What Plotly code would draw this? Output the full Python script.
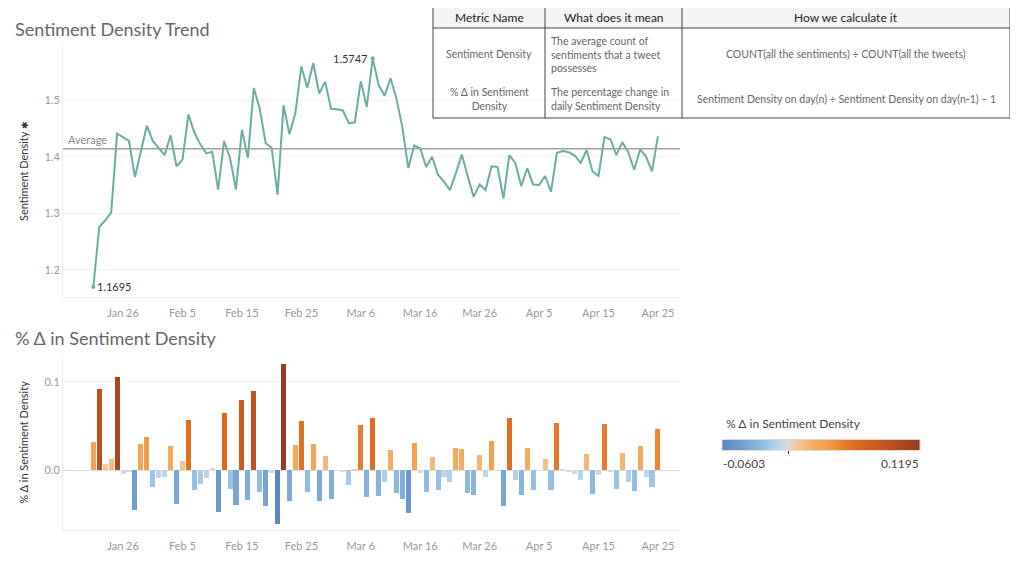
import pandas as pd
import plotly.graph_objs as go
from plotly.subplots import make_subplots

# Daily sentiment density
start_date = "2020-01-21"
sentiment_density = [
	1.1695, 1.276, 1.287, 1.301, 1.441, 1.434, 1.428, 1.364, 1.407, 1.455,
	1.428, 1.416, 1.403, 1.438, 1.383, 1.395, 1.475, 1.443, 1.422, 1.406,
	1.409, 1.342, 1.428, 1.398, 1.342, 1.448, 1.398, 1.522, 1.485, 1.424,
	1.416, 1.333, 1.491, 1.440, 1.478, 1.560, 1.522, 1.566, 1.512, 1.533,
	1.485, 1.484, 1.482, 1.459, 1.461, 1.534, 1.488, 1.5747, 1.527, 1.508,
	1.539, 1.503, 1.452, 1.380, 1.420, 1.415, 1.382, 1.400, 1.368, 1.356,
	1.341, 1.371, 1.404, 1.365, 1.329, 1.351, 1.341, 1.383, 1.382, 1.326,
	1.403, 1.389, 1.348, 1.380, 1.351, 1.350, 1.366, 1.338, 1.407, 1.410,
	1.408, 1.402, 1.389, 1.412, 1.374, 1.366, 1.435, 1.431, 1.403, 1.426,
	1.408, 1.377, 1.413, 1.400, 1.374, 1.436,
]

# Daily % change
pct_change = [
	0.0316, 0.0914, 0.0071, 0.0132, 0.1056, -0.004, -0.0015, -0.045, 0.030, 0.037,
	-0.019, -0.009, -0.008, 0.027, -0.038, 0.010, 0.057, -0.022, -0.015, -0.009,
	0.003, -0.047, 0.065, -0.021, -0.039, 0.079, -0.034, 0.089, -0.024, -0.040,
	-0.003, -0.0603, 0.1195, -0.035, 0.028, 0.056, -0.025, 0.030, -0.035, 0.0165,
	-0.032, -0.0005, -0.001, -0.0165, 0.002, 0.051, -0.030, 0.0586, -0.029, -0.0135,
	0.0226, -0.026, -0.032, -0.048, 0.031, -0.003, -0.024, 0.015, -0.022, -0.008,
	-0.013, 0.0256, 0.0237, -0.026, -0.028, 0.017, -0.008, 0.033, -0.0007, -0.040,
	0.0586, -0.0105, -0.028, 0.0248, -0.022, -0.0007, 0.0124, -0.022, 0.053, 0.002,
	-0.002, -0.004, -0.0105, 0.018, -0.027, -0.0053, 0.052, -0.0025, -0.021, 0.019,
	-0.0128, -0.023, 0.0274, -0.0075, -0.019, 0.047,
]

# x tick labels (every 10 days)
tick_dates = ["2020-01-26", "2020-02-05", "2020-02-15", "2020-02-25", "2020-03-06",
	"2020-03-16", "2020-03-26", "2020-04-05", "2020-04-15", "2020-04-25"]
tick_labels = ["Jan 26", "Feb 5", "Feb 15", "Feb 25", "Mar 6",
	"Mar 16", "Mar 26", "Apr 5", "Apr 15", "Apr 25"]

average_value = 1.414
min_idx, max_idx = 0, 47
pct_min, pct_max = -0.0603, 0.1195

table_header = ["Metric Name", "What does it mean", "How we calculate it"]
table_rows = [
	["Sentiment Density",
	 "The average count of<br>sentiments that a tweet<br>possesses",
	 "COUNT(all the sentiments) ÷ COUNT(all the tweets)"],
	["% Δ in Sentiment<br>Density",
	 "The percentage change in<br>daily Sentiment Density",
	 "Sentiment Density on day(n) ÷ Sentiment Density on day(n-1) – 1"],
]

dates = pd.date_range(start_date, periods=len(sentiment_density), freq="D")

# the page body keeps its 8px margin, so the figure is 16px smaller than the window
PAGE_PAD = 8
W, H = 1018 - 2 * PAGE_PAD, 565 - 2 * PAGE_PAD
FONT = "Lato"
def px(x): return (x - PAGE_PAD) / W
def py(y): return 1 - (y - PAGE_PAD) / H

colorscale = [
	[0.0, "#5987c3"], [0.17, "#85b2dc"], [0.28, "#b6d4ec"], [0.335, "#dcdad6"],
	[0.37, "#f3caa0"], [0.45, "#f5b168"], [0.55, "#f09a45"], [0.65, "#e2711f"],
	[0.8, "#c9561d"], [1.0, "#9b3a22"],
]

fig = make_subplots(rows=2, cols=1)

fig.add_trace(go.Scatter(x=dates, y=sentiment_density, mode="lines",
	line=dict(color="#6aaea2", width=2), showlegend=False), row=1, col=1)
fig.add_trace(go.Scatter(x=[dates[min_idx], dates[max_idx]],
	y=[sentiment_density[min_idx], sentiment_density[max_idx]], mode="markers",
	marker=dict(color="#6aaea2", size=4), showlegend=False), row=1, col=1)

fig.add_trace(go.Bar(x=dates, y=pct_change, width=86400000 * 0.85,
	marker=dict(color=pct_change, colorscale=colorscale, cmin=pct_min, cmax=pct_max,
		line=dict(width=0), showscale=True,
		colorbar=dict(orientation="h", x=px(722), xanchor="left", len=198 / W,
			y=py(446.5), yanchor="middle", thickness=11, xpad=0, ypad=0,
			outlinewidth=1, outlinecolor="#dddddd", tickvals=[0], ticks="outside",
			ticklen=3, tickcolor="#333", showticklabels=False)),
	showlegend=False), row=2, col=1)

x_range = ["2020-01-15 21:30", "2020-04-28 17:00"]
axis_font = dict(family=FONT, size=11, color="#999999")
xcommon = dict(range=x_range, type="date", tickvals=tick_dates, ticktext=tick_labels,
	tickfont=axis_font, showgrid=False, zeroline=False, automargin=False,
	showline=True, linecolor="#eeeeee", ticks="outside", ticklen=6, tickcolor="rgba(0,0,0,0)")

fig.update_layout(
	width=W, height=H, margin=dict(l=0, r=0, t=0, b=0, autoexpand=False),
	paper_bgcolor="white", plot_bgcolor="white",
	font=dict(family=FONT, color="#333333"),
	bargap=0,
	xaxis=dict(domain=[px(63), px(680)], **xcommon),
	xaxis2=dict(domain=[px(63), px(680)], **xcommon),
	yaxis=dict(domain=[py(297), py(45)], range=[1.1516, 1.598], dtick=0.1,
		tickformat=".1f", tickfont=axis_font, showgrid=True, gridcolor="#f2f2f2",
		zeroline=False, showline=True, linecolor="#eeeeee", automargin=False,
		title=dict(text="Sentiment Density <span style='font-size:9px'>✱</span>",
			font=dict(family=FONT, size=11, color="#333"), standoff=13)),
	yaxis2=dict(domain=[py(530), py(355)], range=[-0.0674, 0.1301], dtick=0.1,
		tickformat=".1f", tickfont=axis_font, showgrid=True, gridcolor="#f2f2f2",
		zeroline=True, zerolinecolor="#dddddd", zerolinewidth=1,
		showline=True, linecolor="#eeeeee", automargin=False,
		title=dict(text="% Δ in Sentiment Density",
			font=dict(family=FONT, size=11, color="#333"), standoff=13)),
)

# Average reference line
fig.add_hline(y=average_value, line=dict(color="#a0a0a0", width=1.5), row=1, col=1)
fig.add_annotation(x=0, xref="x domain", y=average_value, yref="y", text="Average",
	showarrow=False, xanchor="left", yanchor="bottom", xshift=3, yshift=1,
	font=dict(family=FONT, size=11, color="#888888"))

# Min / max labels
fig.add_annotation(x=dates[max_idx], y=sentiment_density[max_idx], xref="x", yref="y",
	text=f"{sentiment_density[max_idx]:.4f}", showarrow=False, xanchor="right",
	yanchor="middle", xshift=-3, font=dict(family=FONT, size=11, color="#333"))
fig.add_annotation(x=dates[min_idx], y=sentiment_density[min_idx], xref="x", yref="y",
	text=f"{sentiment_density[min_idx]:.4f}", showarrow=False, xanchor="left",
	yanchor="middle", xshift=2, font=dict(family=FONT, size=11, color="#333"))

def label(x, y, text, size, color, xanchor="center", align="center"):
	fig.add_annotation(x=px(x), y=py(y), xref="paper", yref="paper", text=text,
		showarrow=False, xanchor=xanchor, yanchor="middle", align=align,
		font=dict(family=FONT, size=size, color=color))

# Chart titles
label(13, 29, "Sentiment Density Trend", 18, "#666666", "left")
label(13, 338, "% Δ in Sentiment Density", 18, "#666666", "left")

# Colour legend
label(724, 423, "% Δ in Sentiment Density", 12, "#444", "left")
label(721, 463, f"{pct_min:.4f}", 12, "#444", "left")
label(921, 463, f"{pct_max:.4f}", 12, "#444", "right")

# Metric definition table
tx0, tx1, ty0, ty1, th = 433, 1010, 5, 118, 28
col_edges = [433, 545, 682, 1010]
line_style = dict(color="#444444", width=1)
fig.add_shape(type="rect", xref="paper", yref="paper", x0=px(tx0), x1=px(tx1),
	y0=py(th), y1=py(ty0), fillcolor="#f4f4f4", line=dict(width=0), layer="below")
fig.add_shape(type="rect", xref="paper", yref="paper", x0=px(tx0), x1=px(tx1),
	y0=py(ty1), y1=py(ty0), line=line_style)
fig.add_shape(type="line", xref="paper", yref="paper", x0=px(tx0), x1=px(tx1),
	y0=py(th), y1=py(th), line=line_style)
for cx in col_edges[1:-1]:
	fig.add_shape(type="line", xref="paper", yref="paper", x0=px(cx), x1=px(cx),
		y0=py(ty1), y1=py(ty0), line=line_style)

for i, text in enumerate(table_header):
	label((col_edges[i] + col_edges[i + 1]) / 2, 17, text, 12, "#222222")
row_centers = [54, 99]
for r, row in enumerate(table_rows):
	for i, text in enumerate(row):
		if i == 1:
			label(col_edges[1] + 4, row_centers[r], text, 10.5, "#666666", "left", "left")
		else:
			label((col_edges[i] + col_edges[i + 1]) / 2, row_centers[r], text, 10.5, "#666666")

fig.write_html("out.html")
